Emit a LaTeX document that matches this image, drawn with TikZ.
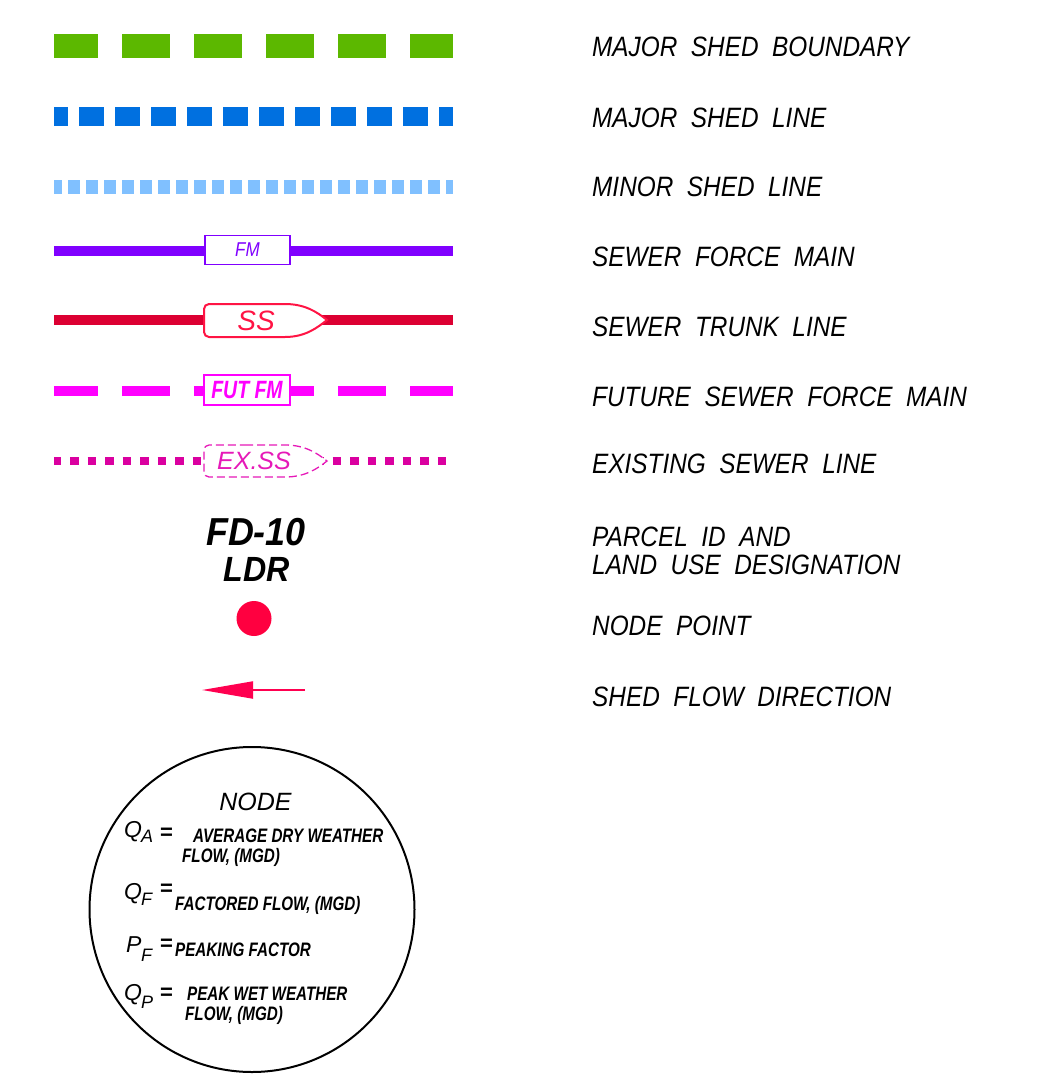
\documentclass[tikz,border=0pt]{standalone}
\usepackage{fontspec}
\setmainfont{Liberation Sans}
\newfontfamily\lblfont[FakeStretch=0.87,WordSpace=2]{Liberation Sans}
\newfontfamily\fdfont[FakeStretch=0.92]{Liberation Sans}
\newfontfamily\cndfont[FakeStretch=0.78]{Liberation Sans}
\newfontfamily\boxfont[FakeStretch=0.85]{Liberation Sans}
\usetikzlibrary{arrows.meta}
\definecolor{cgreen}{RGB}{92,184,0}
\definecolor{cblue}{RGB}{0,112,224}
\definecolor{clblue}{RGB}{128,192,255}
\definecolor{cpurple}{RGB}{128,0,255}
\definecolor{credline}{RGB}{220,0,50}
\definecolor{credout}{RGB}{255,20,68}
\definecolor{cmag}{RGB}{255,0,255}
\definecolor{cdot}{RGB}{218,0,160}
\definecolor{cex}{RGB}{230,25,184}
\definecolor{cnode}{RGB}{255,0,64}
\definecolor{carrow}{RGB}{255,0,80}
\begin{document}
\begin{tikzpicture}[x=1pt,y=-1pt,
  lbl/.style={anchor=base west, inner sep=0pt, font=\lblfont\itshape\fontsize{28}{30}\selectfont},
  ctext/.style={anchor=base west, inner sep=0pt, font=\cndfont\bfseries\itshape\fontsize{19.5}{21}\selectfont},
  csym/.style={anchor=base west, inner sep=0pt, font=\itshape\fontsize{23}{25}\selectfont},
  csub/.style={anchor=base west, inner sep=0pt, font=\itshape\fontsize{18}{20}\selectfont},
  ceq/.style={anchor=base west, inner sep=0pt, font=\bfseries\fontsize{22}{24}\selectfont},
  leg/.style={line cap=butt},
]
\useasboundingbox (0,0) rectangle (1039,1074);

% ---- legend lines ----
\coordinate (gL) at (54,46);  \coordinate (gR) at (453,46);
\draw[leg, cgreen, line width=24pt, dash pattern=on 48pt off 24pt, dash phase=4pt] (gL) -- (gR);

\coordinate (bL) at (54,116.5);  \coordinate (bR) at (453,116.5);
\draw[leg, cblue, line width=19pt, dash pattern=on 24.5pt off 11.5pt, dash phase=11pt] (bL) -- (bR);

\coordinate (lbL) at (54,186.5);  \coordinate (lbR) at (453,186.5);
\draw[leg, clblue, line width=14pt, dash pattern=on 12pt off 6pt, dash phase=4pt] (lbL) -- (lbR);

\coordinate (pL) at (54,251);  \coordinate (pR) at (453,251);
\draw[leg, cpurple, line width=9.5pt] (pL) -- (pR);
\node[draw=cpurple, fill=white, line width=1.2pt, minimum width=85pt, minimum height=29pt, inner sep=0pt,
      text=cpurple, font=\boxfont\itshape\fontsize{20}{22}\selectfont] (fm) at (247.5,250) {FM};

\coordinate (rL) at (54,320);  \coordinate (rR) at (453,320);
\draw[leg, credline, line width=10pt] (rL) -- (rR);
\draw[credout, line width=2pt, fill=white]
  (240,304) -- (285,304) .. controls (305,304) and (317,312) .. (327,320)
  .. controls (317,328) and (305,337) .. (285,337)
  [rounded corners=5pt] -- (204,337) -- (204,304) -- cycle;
\node[inner sep=0pt, text=credout, font=\itshape\fontsize{28}{30}\selectfont] (ss) at (256,320.5) {SS};

\coordinate (mL) at (54,390.5);  \coordinate (mR) at (453,390.5);
\draw[leg, cmag, line width=10pt, dash pattern=on 48pt off 24pt, dash phase=4pt] (mL) -- (mR);
\node[draw=cmag, fill=white, line width=2pt, minimum width=86pt, minimum height=30pt, inner sep=0pt,
      text=cmag, font=\cndfont\bfseries\itshape\fontsize{25}{27}\selectfont] (futfm) at (247,390) {FUT FM};

\coordinate (dL) at (54,461);  \coordinate (dR) at (453,461);
\draw[leg, cdot, line width=8pt, dash pattern=on 8.5pt off 9pt, dash phase=1.5pt] (dL) -- (dR);
\draw[cex, line width=1.3pt, fill=white, dash pattern=on 8pt off 4pt]
  (240,445) -- (285,445) .. controls (305,445) and (317,453) .. (327,461)
  .. controls (317,469) and (305,477) .. (285,477)
  [rounded corners=5pt] -- (204,477) -- (204,445) -- cycle;
\node[inner sep=0pt, text=cex, font=\itshape\fontsize{25}{27}\selectfont] (exss) at (254,461) {EX.SS};

% ---- parcel id ----
\node[anchor=base, inner sep=0pt, font=\fdfont\bfseries\itshape\fontsize{39}{41}\selectfont] (fd) at (256,545) {FD-10};
\node[anchor=base, inner sep=0pt, font=\fdfont\bfseries\itshape\fontsize{35}{37}\selectfont] (ldr) at (256.5,581.5) {LDR};

% ---- node point ----
\node[circle, fill=cnode, minimum size=35pt, inner sep=0pt] (np) at (254,618.5) {};

% ---- flow arrow ----
\coordinate (aS) at (305,690);  \coordinate (aE) at (202,690);
\draw[carrow, line width=2pt, -{Triangle[length=51pt,width=17pt]}] (aS) -- (aE);

% ---- right labels ----
\node[lbl] (t1) at (592,56) {MAJOR SHED BOUNDARY};
\node[lbl] (t2) at (592,127) {MAJOR SHED LINE};
\node[lbl] (t3) at (592,196.5) {MINOR SHED LINE};
\node[lbl] (t4) at (592,266.5) {SEWER FORCE MAIN};
\node[lbl] (t5) at (592,336) {SEWER TRUNK LINE};
\node[lbl] (t6) at (592,406) {FUTURE SEWER FORCE MAIN};
\node[lbl] (t7) at (592,473.5) {EXISTING SEWER LINE};
\node[lbl] (t8a) at (592,546.5) {PARCEL ID AND};
\node[lbl] (t8b) at (592,574.3) {LAND USE DESIGNATION};
\node[lbl] (t9) at (592,635) {NODE POINT};
\node[lbl] (t10) at (592,706.5) {SHED FLOW DIRECTION};

% ---- node circle ----
\node[circle, draw=black, line width=2pt, minimum size=325pt, inner sep=0pt] (nc) at (252,909.5) {};
\node[anchor=base, inner sep=0pt, font=\itshape\fontsize{25}{27}\selectfont] (ndt) at (255.5,810.7) {NODE};

\node[csym] (qa) at (124,837.5) {Q};
\node[csub] (qas) at (141,842) {A};
\node[ceq] (qae) at (160,839) {=};
\node[ctext] (qat1) at (193,842) {AVERAGE DRY WEATHER};
\node[ctext] (qat2) at (182,862) {FLOW, (MGD)};

\node[csym] (qf) at (124,899.5) {Q};
\node[csub] (qfs) at (141,905) {F};
\node[ceq] (qfe) at (160,895.5) {=};
\node[ctext] (qft) at (175,910.7) {FACTORED FLOW, (MGD)};

\node[csym] (pf) at (126,952) {P};
\node[csub] (pfs) at (141,961.7) {F};
\node[ceq] (pfe) at (160,950.5) {=};
\node[ctext] (pft) at (175,956) {PEAKING FACTOR};

\node[csym] (qp) at (124,1000) {Q};
\node[csub] (qps) at (141,1008) {P};
\node[ceq] (qpe) at (160,999.5) {=};
\node[ctext] (qpt1) at (187,1000) {PEAK WET WEATHER};
\node[ctext] (qpt2) at (185,1020) {FLOW, (MGD)};
\end{tikzpicture}
\end{document}
